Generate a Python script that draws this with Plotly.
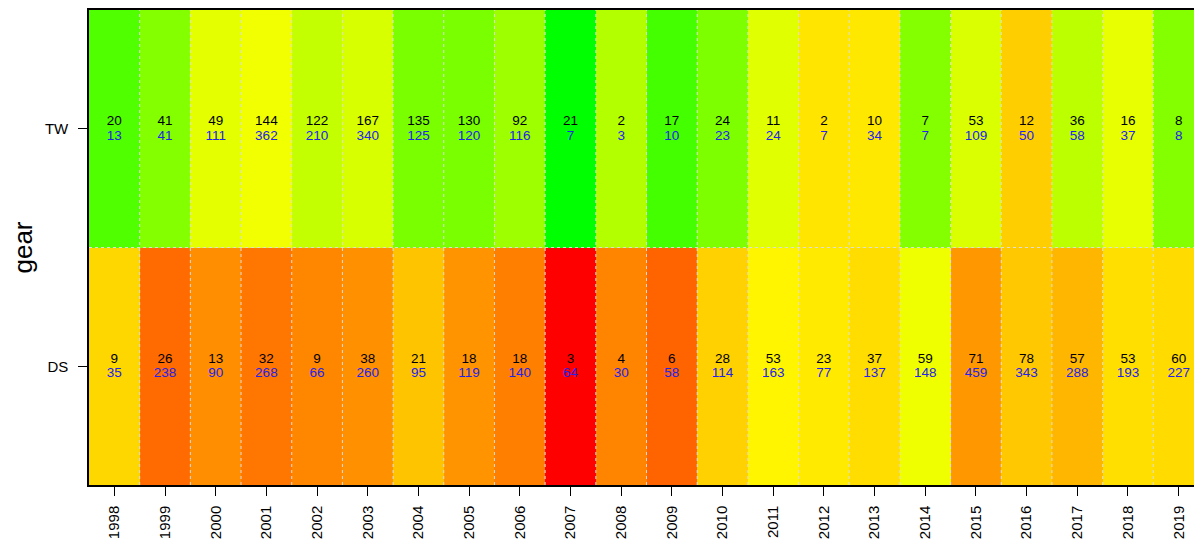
import numpy as np
import plotly.graph_objects as go

years = list(range(1998, 2020))
gears = ["DS", "TW"]

tw_top = [20, 41, 49, 144, 122, 167, 135, 130, 92, 21, 2, 17, 24, 11, 2, 10, 7, 53, 12, 36, 16, 8]
tw_bottom = [13, 41, 111, 362, 210, 340, 125, 120, 116, 7, 3, 10, 23, 24, 7, 34, 7, 109, 50, 58, 37, 8]
ds_top = [9, 26, 13, 32, 9, 38, 21, 18, 18, 3, 4, 6, 28, 53, 23, 37, 59, 71, 78, 57, 53, 60]
ds_bottom = [35, 238, 90, 268, 66, 260, 95, 119, 140, 64, 30, 58, 114, 163, 77, 137, 148, 459, 343, 288, 193, 227]

# colour = log ratio of the two counts, red -> yellow -> green
z = np.log(np.array([ds_top, tw_top]) / np.array([ds_bottom, tw_bottom]))
yrow = np.arange(len(gears))

fig = go.Figure()
fig.add_trace(go.Heatmap(
    x=years, y=yrow, z=z,
    colorscale=[[0, "#FF0000"], [0.485, "#FFFF00"], [1, "#00FF00"]],
    showscale=False, hoverinfo="skip"))

font = "Liberation Sans, Arial, sans-serif"
for row, top, bottom in [(0, ds_top, ds_bottom), (1, tw_top, tw_bottom)]:
    fig.add_trace(go.Scatter(
        x=years, y=[row + 0.028] * len(years), mode="text",
        text=[str(v) for v in top],
        textfont=dict(family=font, size=13.5, color="black"),
        hoverinfo="skip"))
    fig.add_trace(go.Scatter(
        x=years, y=[row - 0.032] * len(years), mode="text",
        text=[str(v) for v in bottom],
        textfont=dict(family=font, size=13.5, color="#2222EE"),
        hoverinfo="skip"))

# dotted cell borders
for i in range(1, len(years)):
    fig.add_shape(type="line", xref="x", yref="paper",
                  x0=years[0] - 0.5 + i, x1=years[0] - 0.5 + i, y0=0, y1=1,
                  line=dict(color="#DDDDDD", width=1, dash="dot"), layer="above")
fig.add_shape(type="line", xref="paper", yref="y", x0=0, x1=1, y0=0.5, y1=0.5,
              line=dict(color="#DDDDDD", width=1, dash="dot"), layer="above")

fig.update_xaxes(
    range=[years[0] - 0.5, years[-1] + 0.5], tickvals=years,
    ticktext=[str(y) for y in years], tickangle=-90,
    ticks="outside", ticklen=9, tickwidth=1.2, tickcolor="black",
    ticklabelstandoff=4, automargin=False,
    showline=True, linecolor="black", linewidth=1.5, mirror=True,
    showgrid=False, zeroline=False,
    tickfont=dict(family=font, size=15, color="black"))
fig.update_yaxes(
    range=[-0.5, len(gears) - 0.5], tickvals=list(yrow), ticktext=gears,
    ticks="outside", ticklen=9, tickwidth=1.2, tickcolor="black",
    ticklabelstandoff=7, automargin=False,
    showline=True, linecolor="black", linewidth=1.5, mirror=True,
    showgrid=False, zeroline=False,
    tickfont=dict(family=font, size=15, color="black"),
    title=dict(text="gear", font=dict(family=font, size=26, color="black"), standoff=8))

# the page body adds 8px around the figure; the plot runs just past the right edge
fig.update_layout(
    width=1202, height=535,
    margin=dict(l=81, r=6, t=2, b=58),
    plot_bgcolor="white", paper_bgcolor="white",
    showlegend=False)

fig.write_html("out.html")
